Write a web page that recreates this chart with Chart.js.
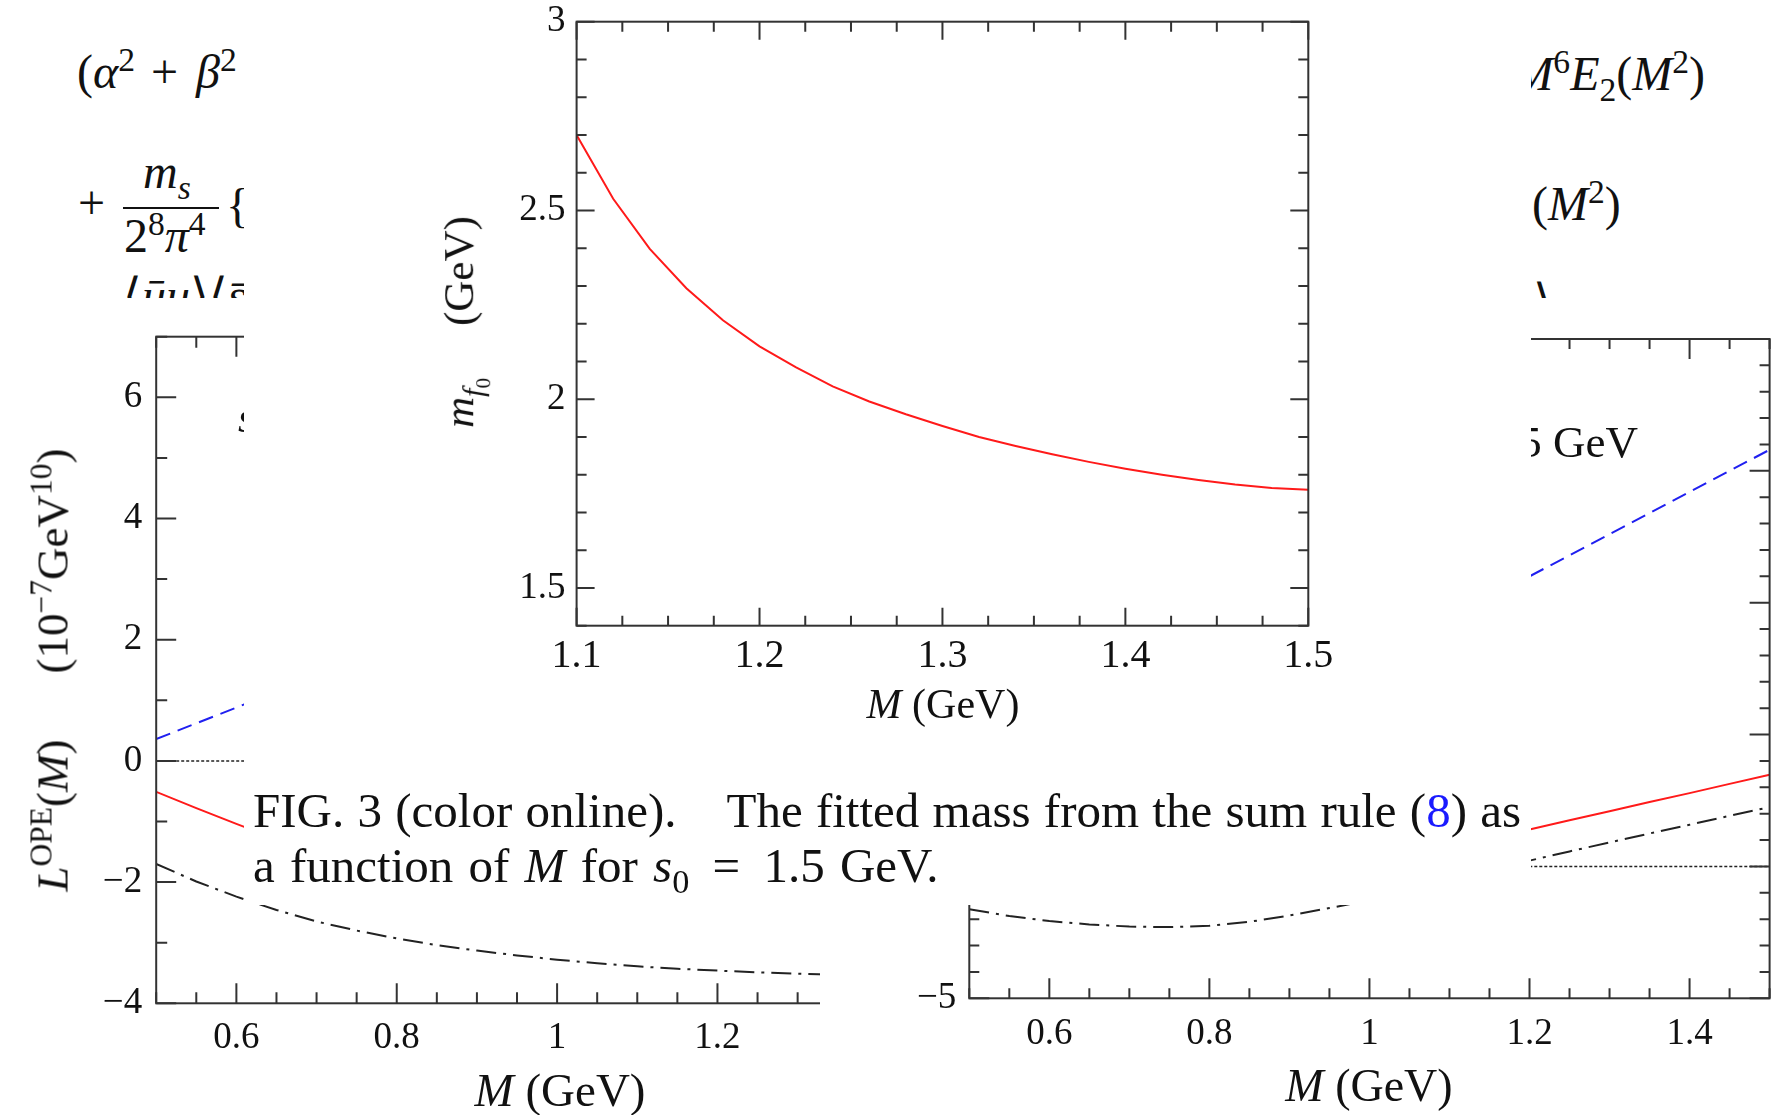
<!DOCTYPE html>
<html>
<head>
<meta charset="utf-8">
<script src="https://cdn.jsdelivr.net/npm/chart.js@4.4.1/dist/chart.umd.min.js"></script>
<style>
  body { margin:0; width:1781px; height:1115px; position:relative; overflow:hidden; background:#fff;
         font-family:"Liberation Serif","Times New Roman",serif; color:#111; }
  .abs { position:absolute; white-space:nowrap; line-height:1; }
  .rot { position:absolute; white-space:nowrap; line-height:1; transform:translate(-50%,-50%) rotate(-90deg); }
  .panel { position:absolute; background:#fff; overflow:hidden; }
  .panel canvas { position:absolute; left:0; top:0; }
  .gap { display:inline-block; }
  .op { padding:0 6px 0 4px; }
  sup, sub { font-size:70%; line-height:0; }
</style>
</head>
<body>

<!-- text of the page behind the figures -->
<div class="abs" style="left:77px;top:48px;font-size:48px;z-index:1">(<i>α</i><sup>2</sup><span class="op"> + </span><i>β</i><sup>2</sup></div>
<div class="abs" style="left:78px;top:179px;font-size:48px;z-index:1">+</div>
<div class="abs" style="left:143px;top:148px;font-size:48px;z-index:1"><i>m</i><sub><i>s</i></sub></div>
<div style="position:absolute;left:123px;top:207px;width:96px;height:2px;background:#111;z-index:1"></div>
<div class="abs" style="left:124px;top:212px;font-size:48px;z-index:1">2<sup>8</sup><i>π</i><sup>4</sup></div>
<div class="abs" style="left:226px;top:182px;font-size:48px;z-index:1">{2</div>
<div class="abs" style="left:123px;top:272px;font-size:48px;z-index:1">⟨<i>ū</i><i>u</i>⟩⟨<i>s̄</i></div>
<div class="abs" style="right:76px;top:50px;font-size:48px;z-index:1"><i>M</i><sup>6</sup><i>E</i><sub>2</sub>(<i>M</i><sup>2</sup>)</div>
<div class="abs" style="left:1532px;top:180px;font-size:48px;z-index:1">(<i>M</i><sup>2</sup>)</div>
<div class="abs" style="left:1533px;top:278px;font-size:48px;z-index:1">⟩</div>

<!-- left figure (mostly covered) -->
<div class="panel" style="left:0;top:298px;width:820px;height:817px;z-index:2">
  <canvas id="leftChart" width="1000" height="817"></canvas>
  <div class="abs" style="left:238px;top:98px;font-size:44px"><i>s</i><sub>0</sub> = 1.5 GeV</div>
  <div class="abs" style="left:560px;top:769px;font-size:47px;transform:translateX(-50%)"><i>M</i> (GeV)</div>
  <div class="rot" style="left:53px;top:372px;font-size:45px"><i>L</i><sup>OPE</sup>(<i>M</i>)<span class="gap" style="width:66px"></span>(10<sup>−7</sup>GeV<sup>10</sup>)</div>
</div>

<!-- right figure (partly covered) -->
<div class="panel" style="left:820px;top:298px;width:961px;height:817px;z-index:3">
  <canvas id="rightChart" width="961" height="817"></canvas>
  <div class="abs" style="right:143px;top:122px;font-size:45px"><i>s</i><sub>0</sub> = 1.5 GeV</div>
  <div class="abs" style="left:549px;top:765px;font-size:46px;transform:translateX(-50%)"><i>M</i> (GeV)</div>
</div>

<!-- main figure with caption -->
<div class="panel" style="left:244px;top:0;width:1287px;height:905px;z-index:4">
  <canvas id="mainChart" width="1287" height="905"></canvas>
  <div class="rot" style="left:216px;top:322px;font-size:43px"><i>m</i><sub><i>f</i><sub>0</sub></sub><span class="gap" style="width:52px"></span>(GeV)</div>
  <div class="abs" style="left:699px;top:683px;font-size:42px;transform:translateX(-50%)"><i>M</i> (GeV)</div>
  <div class="abs" style="left:9px;top:783px;font-size:49px;line-height:55px;word-spacing:1px">FIG. 3 (color online).<span class="gap" style="width:50px"></span>The fitted mass from the sum rule (<span style="color:#1a1aff">8</span>) as<br><span style="word-spacing:3px">a function of <i>M</i> for <i>s</i><sub>0</sub><span class="op" style="padding:0 8px"> = </span>1.5 GeV.</span></div>
</div>

<script>
// main figure: fitted mass vs M
const borelM = [1.10, 1.12, 1.14, 1.16, 1.18, 1.20, 1.22, 1.24, 1.26, 1.28, 1.30,
                1.32, 1.34, 1.36, 1.38, 1.40, 1.42, 1.44, 1.46, 1.48, 1.50];
const fittedMass = [2.70, 2.531, 2.398, 2.294, 2.209, 2.14, 2.084, 2.034, 1.994, 1.96, 1.929,
                    1.90, 1.876, 1.854, 1.834, 1.816, 1.80, 1.786, 1.774, 1.765, 1.76];
const mainXTicks = [1.1, 1.2, 1.3, 1.4, 1.5];
const mainYTicks = [1.5, 2, 2.5, 3];

// left figure
const leftM = [0.5, 0.55, 0.6, 0.65, 0.7, 0.75, 0.8, 0.85, 0.9, 0.95, 1.0,
               1.05, 1.1, 1.15, 1.2, 1.25, 1.3, 1.35];
const leftDashDot = [-1.70, -1.99, -2.24, -2.46, -2.65, -2.80, -2.93, -3.04, -3.13, -3.21, -3.28,
                     -3.34, -3.39, -3.43, -3.46, -3.49, -3.51, -3.53];
const leftMShort = [0.5, 0.55, 0.6, 0.65];
const leftDashed = [0.36, 0.62, 0.88, 1.15];
const leftSolid = [-0.51, -0.78, -1.04, -1.29];
const leftXTicks = [0.6, 0.8, 1, 1.2, 1.4];
const leftYTicks = [-4, -2, 0, 2, 4, 6];

// right figure
const rightM = [0.5, 0.55, 0.6, 0.65, 0.7, 0.75, 0.8, 0.85, 0.9, 0.95, 1.0,
                1.05, 1.1, 1.15, 1.2, 1.25, 1.3, 1.35, 1.4, 1.45, 1.5];
const rightDashDot = [-1.62, -1.88, -2.07, -2.20, -2.28, -2.30, -2.25, -2.10, -1.86, -1.58, -1.28,
                      -0.94, -0.58, -0.20, 0.22, 0.57, 0.91, 1.25, 1.58, 1.92, 2.25];
const rightMUpper = [1.15, 1.2, 1.25, 1.3, 1.35, 1.4, 1.45, 1.5];
const rightSolid = [1.07, 1.40, 1.75, 2.09, 2.44, 2.78, 3.13, 3.48];
const rightDashed = [10.2, 11.0, 11.8, 12.6, 13.4, 14.2, 15.0, 15.8];
const rightXTicks = [0.6, 0.8, 1, 1.2, 1.4];
const rightYTicks = [-5, 0, 5, 10, 15, 20];

const zeroM = [0.5, 1.5];
const zeroLine = [0, 0];

// frame on all four sides with inward ticks
const frameTicks = {
  id: 'frameTicks',
  afterDatasetsDraw(chart, args, o) {
    const {ctx, chartArea: a, scales: {x, y}} = chart;
    const isMajor = (v, list) => list.some(m => Math.abs(m - v) < 1e-6);
    ctx.save();
    ctx.strokeStyle = '#333';
    ctx.lineWidth = 2;
    ctx.strokeRect(a.left, a.top, a.right - a.left, a.bottom - a.top);
    ctx.beginPath();
    for (let i = 0; ; i++) {
      const v = x.min + i * o.xMinor;
      if (v > x.max + 1e-9) break;
      const p = x.getPixelForValue(v);
      const len = isMajor(v, o.xMajor) ? o.majorLen : o.minorLen;
      ctx.moveTo(p, a.bottom); ctx.lineTo(p, a.bottom - len);
      ctx.moveTo(p, a.top); ctx.lineTo(p, a.top + len);
    }
    for (let i = 0; ; i++) {
      const v = y.min + i * o.yMinor;
      if (v > y.max + 1e-9) break;
      const p = y.getPixelForValue(v);
      const len = isMajor(v, o.yMajor) ? o.majorLen : o.minorLen;
      ctx.moveTo(a.left, p); ctx.lineTo(a.left + len, p);
      ctx.moveTo(a.right, p); ctx.lineTo(a.right - len, p);
    }
    ctx.stroke();
    ctx.restore();
  }
};

const serif = size => ({family: '"Liberation Serif", "Times New Roman", serif', size});
const fmt = v => String(+v.toFixed(2)).replace('-', '\u2212');
const pts = (xs, ys) => xs.map((v, i) => ({x: v, y: ys[i]}));

function line(xs, ys, color, dash, width) {
  return {data: pts(xs, ys), borderColor: color, borderWidth: width || 2, borderDash: dash || [],
          pointRadius: 0, tension: 0, fill: false};
}

function buildChart(id, c) {
  return new Chart(document.getElementById(id), {
    type: 'line',
    data: {datasets: c.datasets},
    plugins: [frameTicks],
    options: {
      responsive: false, animation: false, events: [],
      layout: {padding: c.padding},
      plugins: {legend: {display: false}, tooltip: {enabled: false}, frameTicks: c.frame},
      scales: {
        x: {type: 'linear', min: c.xMin, max: c.xMax,
            afterBuildTicks: s => { s.ticks = c.xTicks.map(v => ({value: v})); },
            afterFit: s => { s.height = 100; s.paddingLeft = 0; s.paddingRight = 0; },
            grid: {display: false, drawTicks: false}, border: {display: false},
            ticks: {font: serif(c.xFont), color: '#111', padding: c.xPad, maxRotation: 0, autoSkip: false, callback: fmt}},
        y: {type: 'linear', min: c.yMin, max: c.yMax,
            afterBuildTicks: s => { s.ticks = c.yTicks.map(v => ({value: v})); },
            afterFit: s => { s.width = 100; s.paddingTop = 0; s.paddingBottom = 0; },
            grid: {display: false, drawTicks: false}, border: {display: false},
            ticks: {font: serif(c.yFont), color: '#111', padding: c.yPad, autoSkip: false, callback: fmt}}
      }
    }
  });
}

buildChart('leftChart', {
  datasets: [
    line(zeroM, zeroLine, '#222', [3, 2], 1.5),
    line(leftMShort, leftDashed, '#2020f0', [15, 8]),
    line(leftMShort, leftSolid, '#ff1a1a'),
    line(leftM, leftDashDot, '#222', [20, 7, 3, 7])
  ],
  padding: {left: 56.2, right: 42, top: 38.7, bottom: 11.7},
  xMin: 0.5, xMax: 1.5, yMin: -4, yMax: 7,
  xTicks: leftXTicks, yTicks: leftYTicks,
  xFont: 37, yFont: 37, xPad: 13, yPad: 14,
  frame: {xMinor: 0.05, yMinor: 1, xMajor: leftXTicks, yMajor: leftYTicks, majorLen: 20, minorLen: 11}
});

buildChart('rightChart', {
  datasets: [
    line(zeroM, zeroLine, '#222', [3, 2], 1.5),
    line(rightMUpper, rightDashed, '#2020f0', [15, 8]),
    line(rightMUpper, rightSolid, '#ff1a1a'),
    line(rightM, rightDashDot, '#222', [20, 7, 3, 7])
  ],
  padding: {left: 49.3, right: 11.4, top: 41, bottom: 16.7},
  xMin: 0.5, xMax: 1.5, yMin: -5, yMax: 20,
  xTicks: rightXTicks, yTicks: rightYTicks,
  xFont: 37, yFont: 37, xPad: 14, yPad: 13,
  frame: {xMinor: 0.05, yMinor: 1, xMajor: rightXTicks, yMajor: rightYTicks, majorLen: 20, minorLen: 10}
});

buildChart('mainChart', {
  datasets: [line(borelM, fittedMass, '#ff1a1a')],
  padding: {left: 232.6, right: 222.7, top: 21.7, bottom: 179.3},
  xMin: 1.1, xMax: 1.5, yMin: 1.4, yMax: 3,
  xTicks: mainXTicks, yTicks: mainYTicks,
  xFont: 40, yFont: 37, xPad: 7, yPad: 11,
  frame: {xMinor: 0.025, yMinor: 0.1, xMajor: mainXTicks, yMajor: mainYTicks, majorLen: 18, minorLen: 10}
});
</script>
</body>
</html>
